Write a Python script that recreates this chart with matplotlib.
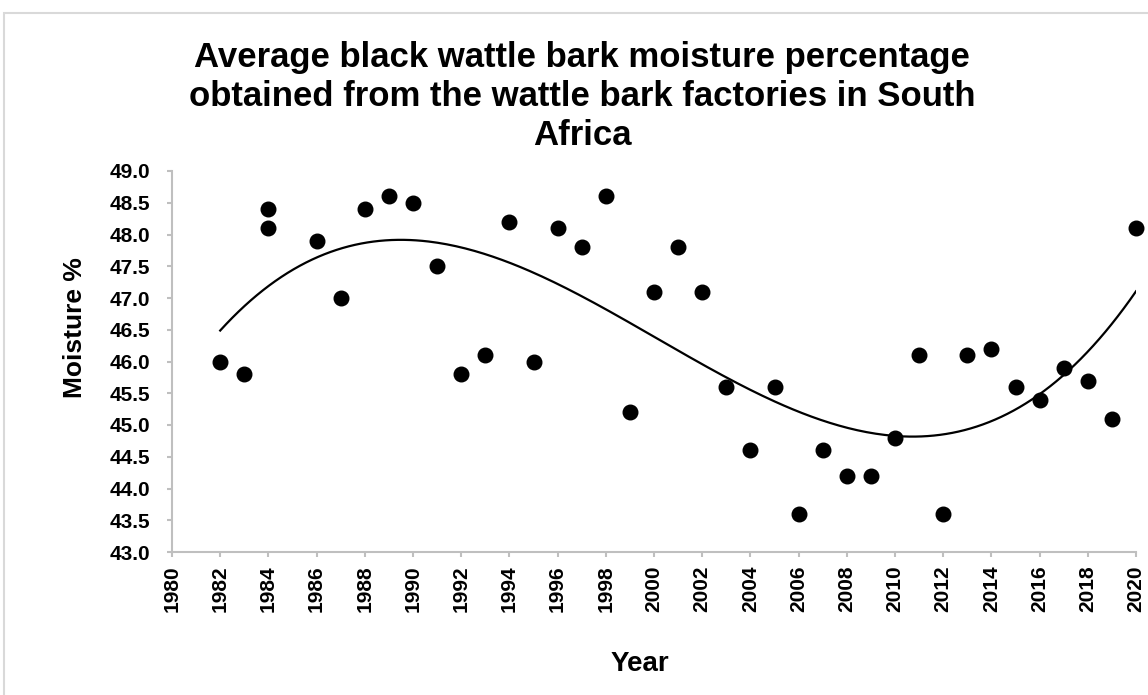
import numpy as np
import matplotlib.pyplot as plt
from matplotlib.patches import Rectangle

plt.rcParams['font.family'] = ['Liberation Sans', 'DejaVu Sans']

years = [1982, 1983, 1984, 1984, 1986, 1987, 1988, 1989, 1990, 1991, 1992,
         1993, 1994, 1995, 1996, 1997, 1998, 1999, 2000, 2001, 2002, 2003,
         2004, 2005, 2006, 2007, 2008, 2009, 2010, 2011, 2012, 2013, 2014,
         2015, 2016, 2017, 2018, 2019, 2020]
moisture = [46.0, 45.8, 48.4, 48.1, 47.9, 47.0, 48.4, 48.6, 48.5, 47.5, 45.8,
            46.1, 48.2, 46.0, 48.1, 47.8, 48.6, 45.2, 47.1, 47.8, 47.1, 45.6,
            44.6, 45.6, 43.6, 44.6, 44.2, 44.2, 44.8, 46.1, 43.6, 46.1, 46.2,
            45.6, 45.4, 45.9, 45.7, 45.1, 48.1]

x = np.array(years, dtype=float)
y = np.array(moisture)

# cubic trendline like excel's polynomial (order 3)
coef = np.polyfit(x - 2000, y, 3)
xs = np.linspace(x.min(), x.max(), 300)
ys = np.polyval(coef, xs - 2000)

fig = plt.figure(figsize=(11.48, 6.95), dpi=100)
ax = fig.add_axes([172/1148, 1 - 552/695, (1136-172)/1148, (552-171)/695])

fig.patches.append(Rectangle((4/1148, -0.1), 1.2, 1 - 13/695 + 0.1,
                             transform=fig.transFigure, fill=False,
                             edgecolor='#d9d9d9', linewidth=1.5))

ax.scatter(x, y, s=110, color='black', zorder=3, clip_on=False)
ax.plot(xs, ys, color='black', linewidth=1.6)

ax.set_xlim(1980, 2020)
ax.set_ylim(43.0, 49.0)
ax.set_xticks(np.arange(1980, 2021, 2))
ax.set_yticks(np.arange(43.0, 49.01, 0.5))
ax.set_yticklabels([f'{v:.1f}' for v in np.arange(43.0, 49.01, 0.5)])

for s in ['top', 'right']:
    ax.spines[s].set_visible(False)
for s in ['left', 'bottom']:
    ax.spines[s].set_color('#bfbfbf')
    ax.spines[s].set_linewidth(1.5)
ax.tick_params(axis='both', color='#bfbfbf', width=1.5, length=3.5)
ax.tick_params(axis='y', labelsize=15, pad=12)
ax.tick_params(axis='x', labelsize=15, labelrotation=90, pad=6)
for lab in ax.get_xticklabels() + ax.get_yticklabels():
    lab.set_fontweight('bold')

ax.set_xlabel('Year', fontsize=20, fontweight='bold')
ax.xaxis.set_label_coords(0.485, -0.26)
ax.set_ylabel('Moisture %', fontsize=19, fontweight='bold')
ax.yaxis.set_label_coords(-0.088, 0.59)

fig.text(0.507, 0.941,
         'Average black wattle bark moisture percentage\n'
         'obtained from the wattle bark factories in South\nAfrica',
         ha='center', va='top', fontsize=25, fontweight='bold',
         linespacing=1.24)

fig.savefig('out.png', dpi=100)
